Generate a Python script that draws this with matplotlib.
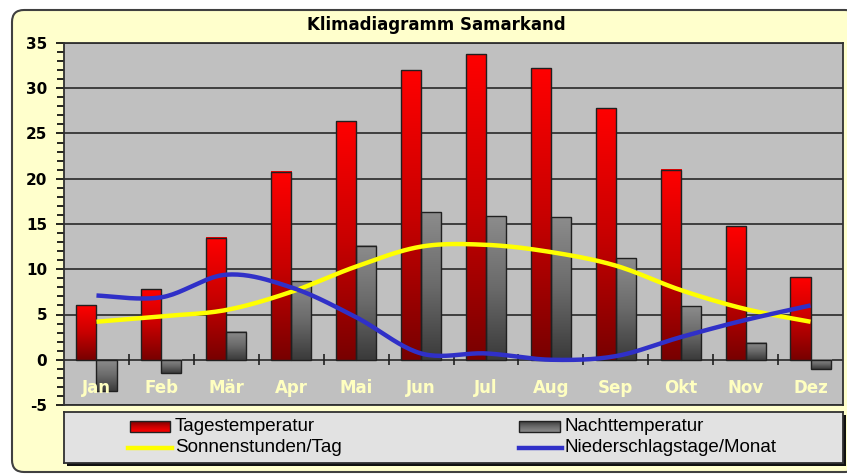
import numpy as np
import matplotlib
matplotlib.use('Agg')
import matplotlib.pyplot as plt
from matplotlib.patches import Rectangle, FancyBboxPatch
from matplotlib.colors import LinearSegmentedColormap
from matplotlib.ticker import MultipleLocator
from matplotlib.lines import Line2D

plt.rcParams['axes.unicode_minus'] = False

months = ['Jan', 'Feb', 'Mär', 'Apr', 'Mai', 'Jun', 'Jul', 'Aug', 'Sep', 'Okt', 'Nov', 'Dez']
tages = [6.0, 7.8, 13.5, 20.8, 26.4, 32.0, 33.8, 32.2, 27.8, 21.0, 14.8, 9.1]
nacht = [-3.4, -1.5, 3.1, 8.7, 12.6, 16.3, 15.9, 15.8, 11.2, 5.9, 1.9, -1.0]
sonne = [4.2, 4.8, 5.5, 7.5, 10.3, 12.5, 12.7, 11.9, 10.4, 7.7, 5.6, 4.2]
regen = [7.1, 6.9, 9.4, 8.0, 4.7, 0.7, 0.7, 0.0, 0.4, 2.5, 4.4, 6.0]
series_names = ['Tagestemperatur', 'Nachttemperatur', 'Sonnenstunden/Tag', 'Niederschlagstage/Monat']

W, H = 847, 476
red_cmap = LinearSegmentedColormap.from_list('rot', ['#780000', '#c80000', '#ff0000'])
grey_cmap = LinearSegmentedColormap.from_list('grau', ['#3a3a3a', '#6a6a6a', '#8c8c8c'])
grad = np.linspace(0, 1, 256).reshape(-1, 1)


def smooth(xs, ys, n=24):
    # excel-like smoothed line (bezier through the points)
    p = np.column_stack([xs, ys]).astype(float)
    ext = np.vstack([p[0], p, p[-1]])
    t = np.linspace(0, 1, n)[:, None]
    out = []
    for i in range(len(p) - 1):
        p0, p1, p2, p3 = ext[i], ext[i + 1], ext[i + 2], ext[i + 3]
        c1 = p1 + (p2 - p0) / 6
        c2 = p2 - (p3 - p1) / 6
        out.append((1 - t) ** 3 * p1 + 3 * (1 - t) ** 2 * t * c1 + 3 * (1 - t) * t ** 2 * c2 + t ** 3 * p2)
    arr = np.vstack(out)
    return arr[:, 0], arr[:, 1]


def grad_bars(ax, bars, cmap):
    for b in bars:
        x0, y0, w, h = b.get_x(), b.get_y(), b.get_width(), b.get_height()
        ax.imshow(grad, cmap=cmap, origin='lower', aspect='auto', zorder=2,
                  extent=(x0, x0 + w, min(y0, y0 + h), max(y0, y0 + h)))


fig = plt.figure(figsize=(W / 100, H / 100), dpi=100)
fig.patch.set_facecolor('white')

# background panel, in pixel coords
bg = fig.add_axes([0, 0, 1, 1])
bg.set_xlim(0, W)
bg.set_ylim(H, 0)
bg.axis('off')
bg.add_patch(FancyBboxPatch((12, 10), 845, 462, boxstyle='round,pad=0,rounding_size=12',
                            facecolor='#ffffcc', edgecolor='#404040', lw=1.5))
bg.text(436, 25, 'Klimadiagramm Samarkand', ha='center', va='center',
        fontsize=12, fontweight='bold', color='black')
# legend shadow
bg.add_patch(Rectangle((67, 415), 779, 51, facecolor='#101010', edgecolor='none'))

ax = fig.add_axes([64 / W, 1 - 405 / H, (843 - 64) / W, (405 - 43) / H])
ax.set_facecolor('#c0c0c0')
x = np.arange(len(months))
w = 0.31

for yv in range(-5, 36, 5):
    ax.axhline(yv, color='#282828', lw=1.2, zorder=1)
ax.vlines(np.arange(0.5, 11.5), -0.6, 0.6, color='#202020', lw=1.2, zorder=1)

b1 = ax.bar(x - w / 2, tages, w, facecolor='none', edgecolor='#202020', lw=1, zorder=3)
b2 = ax.bar(x + w / 2, nacht, w, facecolor='none', edgecolor='#202020', lw=1, zorder=3)
grad_bars(ax, b1, red_cmap)
grad_bars(ax, b2, grey_cmap)

sx, sy = smooth(x, sonne)
rx, ry = smooth(x, regen)
ax.plot(sx, sy, color='#ffff00', lw=3.2, zorder=4, solid_capstyle='butt')
ax.plot(rx, ry, color='#3030c8', lw=3.2, zorder=4, solid_capstyle='butt')

for i, m in enumerate(months):
    ax.text(i, -3.1, m, ha='center', va='center', color='#ffffc0',
            fontsize=12, fontweight='bold', zorder=5)

ax.set_xlim(-0.5, 11.5)
ax.set_ylim(-5, 35)
ax.set_yticks(range(-5, 36, 5))
ax.yaxis.set_minor_locator(MultipleLocator(1))
ax.set_xticks([])
ax.tick_params(axis='y', which='major', direction='out', length=6, width=1.2, pad=6, labelsize=11)
ax.tick_params(axis='y', which='minor', direction='out', length=5, width=1.2)
for lbl in ax.get_yticklabels():
    lbl.set_fontweight('bold')
for s in ax.spines.values():
    s.set_color('#303030')
    s.set_linewidth(1.3)

# legend box
lg = fig.add_axes([64 / W, 1 - 463 / H, (843 - 64) / W, (463 - 412) / H])
lg.set_facecolor('#e2e2e2')
lg.set_xticks([])
lg.set_yticks([])
for s in lg.spines.values():
    s.set_color('#303030')
    s.set_linewidth(1.3)

lg.imshow(grad, cmap=red_cmap, origin='upper', aspect='auto', extent=(130, 170, 432, 421))
lg.add_patch(Rectangle((130, 421), 40, 11, facecolor='none', edgecolor='#202020', lw=1))
lg.imshow(grad, cmap=grey_cmap, origin='upper', aspect='auto', extent=(519, 560, 432, 421))
lg.add_patch(Rectangle((519, 421), 41, 11, facecolor='none', edgecolor='#202020', lw=1))
lg.add_line(Line2D([128, 172], [447.5, 447.5], color='#ffff00', lw=3.2))
lg.add_line(Line2D([519, 562], [447.5, 447.5], color='#3030c8', lw=3.2))
lg.set_xlim(64, 843)
lg.set_ylim(463, 412)

fs = 13.5
lg.text(175, 426, series_names[0], ha='left', va='center', fontsize=fs, family='Liberation Sans')
lg.text(565, 426, series_names[1], ha='left', va='center', fontsize=fs, family='Liberation Sans')
lg.text(175, 447.5, series_names[2], ha='left', va='center', fontsize=fs, family='Liberation Sans')
lg.text(565, 447.5, series_names[3], ha='left', va='center', fontsize=fs, family='Liberation Sans')

fig.savefig('out.png', dpi=100, facecolor='white')
